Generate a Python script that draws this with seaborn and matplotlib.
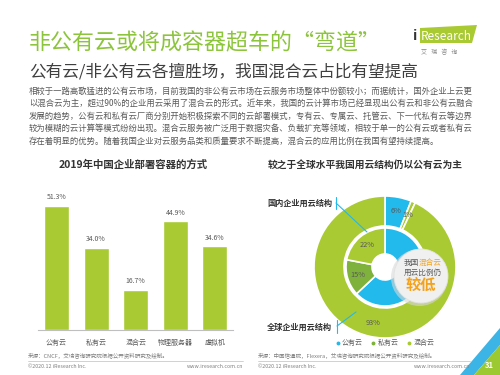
import matplotlib
matplotlib.use('Agg')
import matplotlib.pyplot as plt
import seaborn as sb
import pandas as pd
from matplotlib.patches import Circle, Polygon
from matplotlib.lines import Line2D
import numpy as np

# data
bar_cats = ['公有云', '私有云', '混合云', '物理服务器', '虚拟机']
bar_vals = [51.3, 34.0, 16.7, 44.9, 34.6]

cloud_types = ['公有云', '私有云', '混合云']
global_share = [6, 1, 93]     # 全球企业用云结构 (outer ring)
domestic_share = [63, 15, 22]  # 国内企业用云结构 (inner ring)

title = '非公有云或将成容器超车的“弯道”'
subtitle = '公有云/非公有云各擅胜场，我国混合云占比有望提高'
para = ['相较于一路高歌猛进的公有云市场，目前我国的非公有云市场在云服务市场整体中份额较小；而据统计，国外企业上云更',
        '以混合云为主，超过90%的企业用云采用了混合云的形式。近年来，我国的云计算市场已经显现出公有云和非公有云融合',
        '发展的趋势，公有云和私有云厂商分别开始积极探索不同的云部署模式，专有云、专属云、托管云、下一代私有云等边界',
        '较为模糊的云计算等模式纷纷出现。混合云服务被广泛用于数据灾备、负载扩充等领域，相较于单一的公有云或者私有云',
        '存在着明显的优势。随着我国企业对云服务品类和质量要求不断提高，混合云的应用比例在我国有望持续提高。']

sb.set_style('white')
plt.rcParams['font.family'] = ['Noto Sans CJK SC', 'DejaVu Sans']

W, H = 500, 375
fig = plt.figure(figsize=(5, 3.75), dpi=100)
fig.patch.set_facecolor('white')

def fx(x):
    return x / W

def fy(y):
    return 1 - y / H

def txt(x, y, s, **kw):
    kw.setdefault('va', 'center')
    return fig.text(fx(x), fy(y), s, **kw)

def line(pts, **kw):
    xs = [fx(p[0]) for p in pts]
    ys = [fy(p[1]) for p in pts]
    fig.add_artist(Line2D(xs, ys, transform=fig.transFigure, **kw))

GREEN = '#A9CA33'
DKGREEN = '#7FB23C'
BLUE = '#22B9EC'
GREY = '#595959'

# header
txt(29, 43, title, fontsize=15.8, color='#8CC43C')
txt(29, 72, subtitle, fontsize=12, color='#3f3f3f')
for i, ln in enumerate(para):
    txt(29, 91 + i * 12.5, ln, fontsize=6.0, color=GREY)

# logo
fig.add_artist(Polygon([(fx(420), fy(43)), (fx(420), fy(28)), (fx(477), fy(25)), (fx(472), fy(43))],
                       closed=True, transform=fig.transFigure, facecolor='#A9CA33', edgecolor='none'))
txt(413, 36, 'i', fontsize=10, color='#333333', fontweight='bold')
txt(421, 36, 'Research', fontsize=8.5, color='white')
txt(421, 52, '艾   瑞   咨   询', fontsize=4.3, color='#8a8a8a')

# chart titles
txt(133, 165, '2019年中国企业部署容器的方式', fontsize=7.5, fontweight='bold', color='#333333', ha='center')
txt(365, 165, '较之于全球水平我国用云结构仍以公有云为主', fontsize=7, fontweight='bold', color='#333333', ha='center')

# bar chart
ax = fig.add_axes([fx(38), fy(330), (233 - 38) / W, (330 - 185) / H])
df = pd.DataFrame({'cat': bar_cats, 'val': bar_vals})
sb.barplot(data=df, x='cat', y='val', color=GREEN, saturation=1, width=0.63, ax=ax)
ax.set_xlim(-0.47, 4.46)
ax.set_ylim(0, 60)
ax.bar_label(ax.containers[0], fmt='%.1f%%', padding=3.5, fontsize=5, color=GREY)
ax.set_xlabel('')
ax.set_ylabel('')
ax.set_yticks([])
ax.tick_params(axis='x', length=0, pad=6.5, labelsize=5, labelcolor=GREY)
for s in ['top', 'right', 'left']:
    ax.spines[s].set_visible(False)
ax.spines['bottom'].set_color('#bfbfbf')
ax.spines['bottom'].set_linewidth(0.8)
ax.set_facecolor('none')

# donut chart
cx, cy = 385, 267
dax = fig.add_axes([fx(cx - 80), fy(cy + 80), 160 / W, 160 / H])
cols = [BLUE, DKGREEN, GREEN]
outer, _ = dax.pie(global_share, radius=71, startangle=90, counterclock=False,
                   colors=[BLUE, GREEN, GREEN],
                   wedgeprops=dict(width=30, edgecolor='white', linewidth=1.2))
inner, _ = dax.pie(domestic_share, radius=39, startangle=90, counterclock=False,
                   colors=cols,
                   wedgeprops=dict(width=26, edgecolor='white', linewidth=1.2))
dax.set_xlim(-80, 80)
dax.set_ylim(-80, 80)
dax.set_aspect('equal')
dax.axis('off')

def wedge_label(w, r, s):
    a = np.deg2rad((w.theta1 + w.theta2) / 2)
    dax.text(r * np.cos(a), r * np.sin(a), s, ha='center', va='center', fontsize=5.3, color=GREY)

for w, v in zip(outer, global_share):
    wedge_label(w, 57, f'{v}%')
for w, v in zip(inner, domestic_share):
    if v != max(domestic_share):
        wedge_label(w, 28, f'{v}%')

# highlight bubble
bx, by = 421 - cx, cy - 276
dax.add_patch(Circle((bx - 1.5, by - 1.5), 28.5, facecolor='#d9d9d9', edgecolor='none', alpha=0.6, zorder=5))
dax.add_patch(Circle((bx, by), 27, facecolor='#f0f0f0', edgecolor='#e2e2e2', linewidth=0.6, zorder=6))
txt(404, 263, '我国', fontsize=5.5, color=GREY, zorder=10)
txt(419, 263, '混合云', fontsize=5.5, color='#F5A21B', zorder=10)
txt(404, 273, '用云比例仍', fontsize=5.5, color=GREY, zorder=10)
txt(421, 285, '较低', fontsize=11, color='#F5A21B', fontweight='bold', ha='center', zorder=10)

# callouts
txt(267, 203, '国内企业用云结构', fontsize=5.9, fontweight='bold', color='#333333')
line([(336, 197), (336, 209)], color=BLUE, lw=0.8)
line([(336, 203), (367, 232)], color=BLUE, lw=0.8)
txt(267, 327, '全球企业用云结构', fontsize=5.9, fontweight='bold', color='#333333')
line([(337, 320), (337, 333)], color=BLUE, lw=0.8)
line([(337, 326), (356, 312)], color=BLUE, lw=0.8)

# legend
handles = [Line2D([], [], marker='o', linestyle='', markersize=1.8, color=c) for c in cols]
fig.legend(handles, cloud_types, loc='center', bbox_to_anchor=(fx(385), fy(343)), ncol=3,
           fontsize=5, frameon=False, handlelength=0.6, handletextpad=0.3, columnspacing=1.2,
           labelcolor=GREY)

# sources and footer
txt(28, 355, '来源：CNCF，艾瑞咨询研究院根据公开资料研究及绘制。', fontsize=4, color='#7f7f7f')
txt(258, 355, '来源：中国信通院，Flexera，艾瑞咨询研究院根据公开资料研究及绘制。', fontsize=4, color='#7f7f7f')
line([(28, 361), (243, 361)], color='#bfbfbf', lw=0.5)
line([(258, 361), (470, 361)], color='#bfbfbf', lw=0.5)
txt(28, 367, '©2020.12 iResearch Inc.', fontsize=3.8, color='#7f7f7f')
txt(243, 367, 'www.iresearch.com.cn', fontsize=3.8, color='#7f7f7f', ha='right')
txt(258, 367, '©2020.12 iResearch Inc.', fontsize=3.8, color='#7f7f7f')
txt(470, 367, 'www.iresearch.com.cn', fontsize=3.8, color='#7f7f7f', ha='right')

# corner decoration
fig.add_artist(Polygon([(fx(500), fy(328)), (fx(500), fy(345)), (fx(474), fy(375)), (fx(460), fy(375))],
                       closed=True, transform=fig.transFigure, facecolor='#3DB4E6', edgecolor='none'))
fig.add_artist(Polygon([(fx(500), fy(345)), (fx(500), fy(375)), (fx(474), fy(375))],
                       closed=True, transform=fig.transFigure, facecolor='#9CC832', edgecolor='none'))
txt(489, 365, '31', fontsize=5.5, color='white', fontweight='bold', ha='center')

fig.savefig('out.png', dpi=100)
